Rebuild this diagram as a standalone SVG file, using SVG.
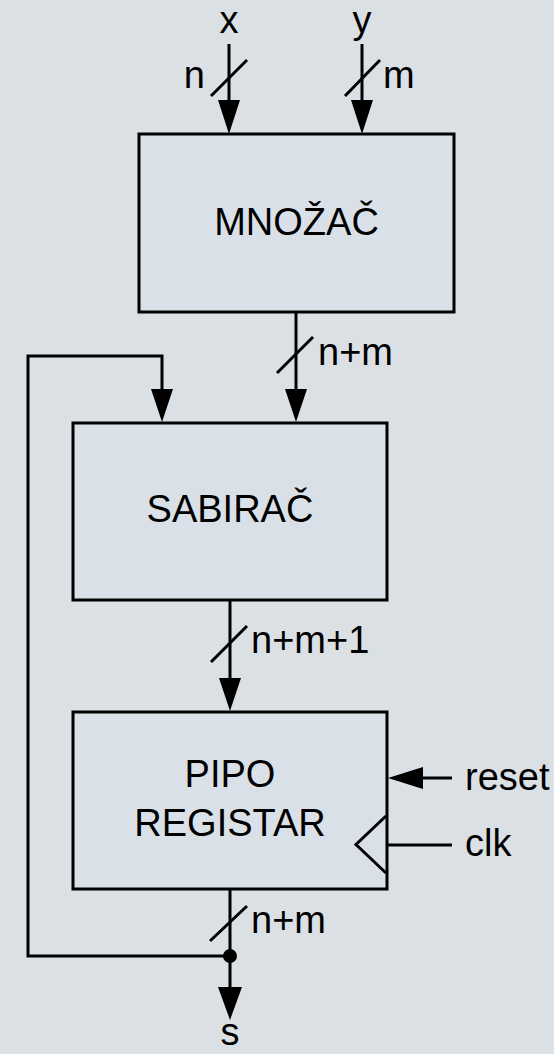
<svg xmlns="http://www.w3.org/2000/svg" width="554" height="1054" viewBox="0 0 554 1054">
<style>
.box{fill:#d9e0e7;stroke:#000;stroke-width:3}
.ln{fill:none;stroke:#000;stroke-width:3}
.ah{fill:#000;stroke:none}
text{font-family:"Liberation Sans",Arial,sans-serif;font-size:38px;fill:#000}
.c{text-anchor:middle}
</style>
<rect width="554" height="1054" fill="#dbe0e5"/>
<g id="mnozac">
<rect class="box" x="139" y="134" width="315" height="178"/>
<text class="c" x="296.5" y="235">MNOŽAČ</text>
</g>
<g id="sabirac">
<rect class="box" x="73" y="423" width="314" height="177"/>
<text class="c" x="230" y="522">SABIRAČ</text>
</g>
<g id="pipo">
<rect class="box" x="73" y="712" width="314" height="177"/>
<text class="c" x="230" y="787">PIPO</text>
<text class="c" x="230" y="836">REGISTAR</text>
<polyline class="ln" points="386,816 356,844.5 386,873"/>
</g>
<g id="connectors">
<text class="c" x="229" y="33">x</text>
<text class="c" x="362" y="33">y</text>
<line class="ln" x1="229" y1="44" x2="229" y2="105"/>
<polygon class="ah" points="218,100 240,100 229,134"/>
<line class="ln" x1="211" y1="96" x2="247" y2="60"/>
<text x="205" y="88" text-anchor="end">n</text>
<line class="ln" x1="362" y1="44" x2="362" y2="105"/>
<polygon class="ah" points="351,100 373,100 362,134"/>
<line class="ln" x1="345" y1="96" x2="380" y2="60"/>
<text x="383" y="88">m</text>

<line class="ln" x1="296" y1="312" x2="296" y2="395"/>
<polygon class="ah" points="285,389 307,389 296,422"/>
<line class="ln" x1="277" y1="373" x2="313" y2="337"/>
<text x="318" y="365">n+m</text>

<polyline class="ln" points="230,956 28,956 28,356 162,356 162,395"/>
<polygon class="ah" points="151,389 173,389 162,422"/>

<line class="ln" x1="230" y1="600" x2="230" y2="685"/>
<polygon class="ah" points="219,678 241,678 230,711"/>
<line class="ln" x1="211" y1="662" x2="247" y2="626"/>
<text x="251" y="653">n+m+1</text>

<line class="ln" x1="452" y1="778" x2="415" y2="778"/>
<polygon class="ah" points="388,778 423,767 423,789"/>
<text x="465" y="790">reset</text>
<line class="ln" x1="387" y1="845" x2="452" y2="845"/>
<text x="465" y="856">clk</text>

<line class="ln" x1="230" y1="889" x2="230" y2="995"/>
<polygon class="ah" points="218,987 242,987 230,1020"/>
<line class="ln" x1="210" y1="941" x2="247" y2="906"/>
<text x="251" y="933">n+m</text>
<circle cx="230" cy="956" r="7" fill="#000"/>
<text class="c" x="230" y="1045">s</text>
</g>
</svg>
